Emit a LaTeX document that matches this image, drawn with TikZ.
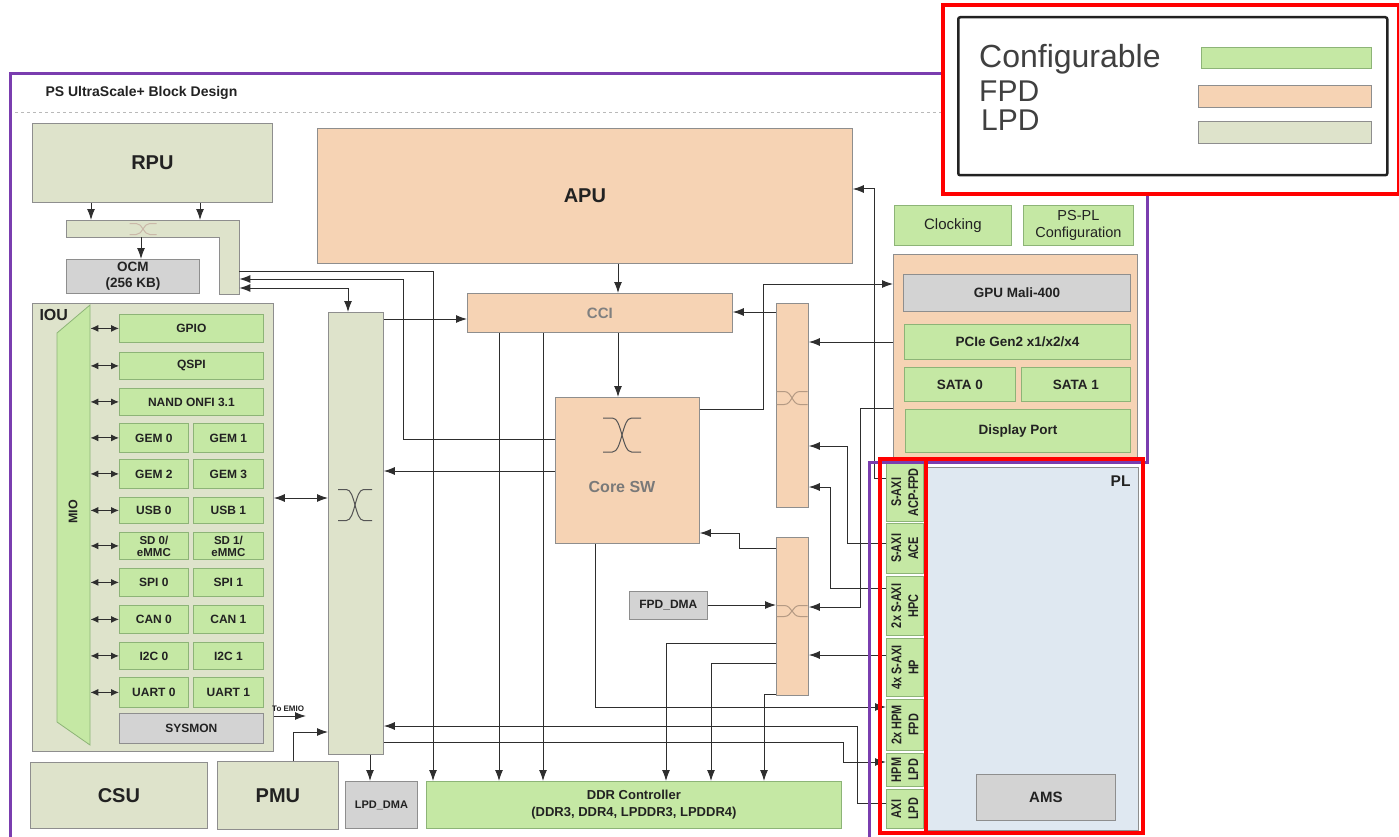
\documentclass[tikz,border=0pt]{standalone}
\usepackage{fontspec}
\setmainfont{Liberation Sans}
\newfontfamily\narrowf{Liberation Sans}[FakeStretch=0.78]
\usetikzlibrary{arrows.meta}
\definecolor{lpd}{HTML}{DEE3CB}
\definecolor{fpd}{HTML}{F6D3B4}
\definecolor{cfg}{HTML}{C5E8A4}
\definecolor{cfgb}{HTML}{8DB477}
\definecolor{gbox}{HTML}{D3D3D3}
\definecolor{plc}{HTML}{DFE8F1}
\definecolor{purp}{HTML}{7A3DAF}
\definecolor{bord}{HTML}{8E8E8E}
\definecolor{ln}{HTML}{2E2E2E}
\definecolor{txt}{HTML}{222222}
\definecolor{swc}{HTML}{555555}
\definecolor{swf}{HTML}{B49A84}
\newcommand\fsz[2]{\fontsize{#1}{#2}\selectfont}
\newcommand\bx[7]{\node[#1,minimum width=#5pt,minimum height=#6pt,anchor=north west] (#2) at (#3,#4) {#7};}
\newcommand\xsym[5]{%
\draw[#5,line width=1pt] ({#1-#3/2},{#2-#4/2}) -- ({#1-#3/4},{#2-#4/2}) .. controls ({#1},{#2-#4/2}) and ({#1},{#2+#4/2}) .. ({#1+#3/4},{#2+#4/2}) -- ({#1+#3/2},{#2+#4/2});
\draw[#5,line width=1pt] ({#1-#3/2},{#2+#4/2}) -- ({#1-#3/4},{#2+#4/2}) .. controls ({#1},{#2+#4/2}) and ({#1},{#2-#4/2}) .. ({#1+#3/4},{#2-#4/2}) -- ({#1+#3/2},{#2-#4/2});}
\begin{document}
\begin{tikzpicture}[x=1pt,y=-1pt,
  base/.style={draw=bord,line width=0.8pt,inner sep=0pt,text=txt,font=\bfseries\fsz{12}{13},align=center},
  lpdbox/.style={base,fill=lpd},
  fpdbox/.style={base,fill=fpd},
  cfgbox/.style={base,fill=cfg,draw=cfgb},
  graybox/.style={base,fill=gbox},
  big/.style={font=\bfseries\fsz{20}{22}},
  mid/.style={font=\bfseries\fsz{13.5}{15}},
  plab/.style={rotate=90,align=center,inner sep=0pt,text=txt,font=\narrowf\bfseries\fsz{14}{17}},
  wire/.style={draw=ln,line width=1pt},
  arr/.style={wire,-{Latex[length=11pt,width=8pt]}},
  barr/.style={wire,{Latex[length=11pt,width=8pt]}-{Latex[length=11pt,width=8pt]}},
  sarr/.style={wire,{Latex[length=8pt,width=7pt]}-{Latex[length=8pt,width=7pt]}}]
\useasboundingbox (0,0) rectangle (1399,837);
\fill[white] (0,0) rectangle (1399,837);

% title and dashed separator
\node[anchor=west,font=\bfseries\fsz{14}{16},text=txt] (title) at (42,93) {PS UltraScale+ Block Design};
\draw[gray!55,dashed,line width=0.8pt] (15,112) -- (1143,112);

% RPU, L-shaped switch, OCM
\bx{lpdbox,big}{rpu}{32}{123}{240}{79}{RPU}
\draw[draw=bord,fill=lpd,line width=0.8pt] (66,220) -- (239,220) -- (239,294) -- (219,294) -- (219,237) -- (66,237) -- cycle;
\node[inner sep=0pt,minimum width=173pt,minimum height=17pt,anchor=north west] (rsw) at (66,220) {};
\node[inner sep=0pt,minimum width=20pt,minimum height=57pt,anchor=north west] (rswv) at (219,237) {};
\xsym{143}{229}{27}{11}{swf!70}
\bx{graybox,font=\bfseries\fsz{13.5}{16}}{ocm}{66}{259}{133}{34}{OCM\\(256 KB)}

% APU, CCI, Core SW
\bx{fpdbox,big}{apu}{317}{128}{535}{135}{APU}
\bx{fpdbox,font=\bfseries\fsz{15}{17},text=gray}{cci}{467}{293}{265}{39}{CCI}
\bx{fpdbox}{coresw}{555}{397}{144}{146}{}
\xsym{622}{435}{38}{34}{swc}
\node[font=\bfseries\fsz{16}{18},text=gray!95!black] (corelab) at (622,487) {Core SW};

% LPD switch and FPD switches
\bx{lpdbox}{lpdsw}{328}{312}{55}{442}{}
\xsym{355}{505}{34}{31}{swc}
\bx{fpdbox}{fsw1}{776}{303}{32}{204}{}
\xsym{792}{398}{31}{13}{swf}
\bx{fpdbox}{fsw2}{776}{537}{32}{158}{}
\xsym{792}{611}{31}{11}{swf}
\bx{graybox}{fpddma}{629}{591}{78}{28}{FPD\_DMA}

% IOU
\bx{lpdbox}{iou}{32}{303}{241}{448}{}
\node[anchor=west,font=\bfseries\fsz{16}{18},text=txt] (ioulab) at (36,315) {IOU};
\draw[draw=cfgb,fill=cfg,line width=0.8pt] (57,333) -- (90,305) -- (90,745) -- (57,722) -- cycle;
\node[inner sep=0pt,minimum width=33pt,minimum height=440pt,anchor=north west] (mio) at (57,305) {};
\node[rotate=90,font=\bfseries\fsz{12.5}{14},text=txt] (miolab) at (73,512) {MIO};
\bx{cfgbox}{gpio}{119}{314}{144}{28}{GPIO}
\bx{cfgbox}{qspi}{119}{352}{144}{27}{QSPI}
\bx{cfgbox}{nand}{119}{388}{144}{27}{NAND ONFI 3.1}
\bx{cfgbox}{gem0}{119}{423}{69}{29}{GEM 0}
\bx{cfgbox}{gem1}{193}{423}{70}{29}{GEM 1}
\bx{cfgbox}{gem2}{119}{459}{69}{29}{GEM 2}
\bx{cfgbox}{gem3}{193}{459}{70}{29}{GEM 3}
\bx{cfgbox}{usb0}{119}{497}{69}{26}{USB 0}
\bx{cfgbox}{usb1}{193}{497}{70}{26}{USB 1}
\bx{cfgbox,font=\bfseries\fsz{11.5}{12}}{sd0}{119}{532}{69}{27}{SD 0/\\eMMC}
\bx{cfgbox,font=\bfseries\fsz{11.5}{12}}{sd1}{193}{532}{70}{27}{SD 1/\\eMMC}
\bx{cfgbox}{spi0}{119}{568}{69}{28}{SPI 0}
\bx{cfgbox}{spi1}{193}{568}{70}{28}{SPI 1}
\bx{cfgbox}{can0}{119}{605}{69}{28}{CAN 0}
\bx{cfgbox}{can1}{193}{605}{70}{28}{CAN 1}
\bx{cfgbox}{i2c0}{119}{642}{69}{27}{I2C 0}
\bx{cfgbox}{i2c1}{193}{642}{70}{27}{I2C 1}
\bx{cfgbox}{uart0}{119}{677}{69}{30}{UART 0}
\bx{cfgbox}{uart1}{193}{677}{70}{30}{UART 1}
\bx{graybox}{sysmon}{119}{713}{144}{30}{SYSMON}
\foreach \p in {gpio,qspi,nand,gem0,gem2,usb0,sd0,spi0,can0,i2c0,uart0}
  \draw[sarr] (mio.east |- \p.west) -- (\p.west);

% bottom row
\bx{lpdbox,big}{csu}{30}{762}{177}{66}{CSU}
\bx{lpdbox,big}{pmu}{217}{761}{121}{68}{PMU}
\bx{graybox,font=\bfseries\fsz{11}{12}}{lpddma}{345}{781}{72}{47}{LPD\_DMA}
\bx{cfgbox,font=\bfseries\fsz{13}{17}}{ddr}{426}{781}{415}{47}{DDR Controller\\(DDR3, DDR4, LPDDR3, LPDDR4)}

% FPD peripherals
\bx{cfgbox,font=\fsz{15}{17}}{clk}{894}{205}{117}{40}{Clocking}
\bx{cfgbox,font=\fsz{14.5}{17}}{pspl}{1023}{205}{110}{40}{PS-PL\\Configuration}
\bx{fpdbox}{fper}{893}{254}{244}{206}{}
\bx{graybox,mid}{gpu}{903}{274}{227}{37}{GPU Mali-400}
\bx{cfgbox,mid}{pcie}{904}{324}{226}{35}{PCIe Gen2 x1/x2/x4}
\bx{cfgbox,mid}{sata0}{904}{367}{111}{34}{SATA 0}
\bx{cfgbox,mid}{sata1}{1021}{367}{109}{34}{SATA 1}
\bx{cfgbox,mid}{dp}{905}{409}{225}{43}{Display Port}

% PL
\node[draw=bord,fill=plc,line width=0.8pt,minimum width=212pt,minimum height=363pt,anchor=north west,inner sep=0pt] (pl) at (926,467) {};
\node[anchor=east,font=\bfseries\fsz{15.5}{17},text=txt] (pllab) at (1134,481) {PL};
\bx{graybox,font=\bfseries\fsz{15}{16}}{ams}{976}{774}{139}{46}{AMS}
\bx{cfgbox}{acp}{886}{463}{37}{58}{}
\bx{cfgbox}{ace}{886}{523}{37}{50}{}
\bx{cfgbox}{hpc}{886}{576}{37}{59}{}
\bx{cfgbox}{hp}{886}{638}{37}{58}{}
\bx{cfgbox}{hpmfpd}{886}{699}{37}{51}{}
\bx{cfgbox}{hpmlpd}{886}{753}{37}{33}{}
\bx{cfgbox}{axilpd}{886}{789}{37}{39}{}
\node[plab] (acpl) at (acp) {S-AXI\\ACP-FPD};
\node[plab] (acel) at (ace) {S-AXI\\ACE};
\node[plab] (hpcl) at (hpc) {2x S-AXI\\HPC};
\node[plab] (hpl) at (hp) {4x S-AXI\\HP};
\node[plab] (hpmfpdl) at (hpmfpd) {2x HPM\\FPD};
\node[plab] (hpmlpdl) at (hpmlpd) {HPM\\LPD};
\node[plab] (axilpdl) at (axilpd) {AXI\\LPD};

% connectors
\draw[arr] (rpu.south -| 91,0) -- (rsw.north -| 91,0);
\draw[arr] (rpu.south -| 200,0) -- (rsw.north -| 200,0);
\draw[arr] (rsw.south -| 141,0) -- (ocm.north -| 141,0);
\draw[arr] (rswv.east |- 0,271) -| (ddr.north -| 433,0);
\draw[arr] (coresw.west |- 0,439) -| (403,279) -- (rswv.east |- 0,279);
\draw[barr] (rswv.east |- 0,288) -| (lpdsw.north -| 348,0);
\draw[arr] (lpdsw.east |- 0,319) -- (cci.west |- 0,319);
\draw[arr] (coresw.west |- 0,471) -- (lpdsw.east |- 0,471);
\draw[barr] (iou.east |- 0,498) -- (lpdsw.west |- 0,498);
\draw[arr] (pmu.north -| 293,0) |- (lpdsw.west |- 0,732);
\coordinate (emio) at (306,716);
\draw[arr] (iou.east |- 0,716) -- (emio);
\node[anchor=south west,font=\bfseries\fsz{8}{9},text=txt,inner sep=1pt] (emiolab) at (271,713) {To EMIO};
\draw[arr] (lpdsw.south -| 370,0) -- (lpddma.north -| 370,0);
\draw[arr] (axilpd.west |- 0,803) -| (857,726) -- (lpdsw.east |- 0,726);
\draw[arr] (lpdsw.east |- 0,742) -| (843,762) -- (hpmlpd.west |- 0,762);
\draw[arr] (apu.south -| 618,0) -- (cci.north -| 618,0);
\draw[arr] (cci.south -| 618,0) -- (coresw.north -| 618,0);
\draw[arr] (cci.south -| 499,0) -- (ddr.north -| 499,0);
\draw[arr] (cci.south -| 543,0) -- (ddr.north -| 543,0);
\draw[arr] (fsw1.west |- 0,312) -- (cci.east |- 0,312);
\draw[arr] (fper.west |- 0,342) -- (fsw1.east |- 0,342);
\draw[arr] (ace.west |- 0,543) -| (847,446) -- (fsw1.east |- 0,446);
\draw[arr] (hpc.west |- 0,588) -| (830,487) -- (fsw1.east |- 0,487);
\draw[arr] (coresw.east |- 0,409) -| (763,284) -- (fper.west |- 0,284);
\draw[arr] (acp.west |- 0,478) -| (874,189) -- (apu.east |- 0,189);
\draw[arr] (fper.west |- 0,408) -| (860,607) -- (fsw2.east |- 0,607);
\draw[arr] (hp.west |- 0,655) -- (fsw2.east |- 0,655);
\draw[arr] (fpddma.east |- 0,605) -- (fsw2.west |- 0,605);
\draw[arr] (fsw2.west |- 0,548) -| (739,533) -- (coresw.east |- 0,533);
\draw[arr] (fsw2.west |- 0,643) -| (ddr.north -| 666,0);
\draw[arr] (fsw2.west |- 0,663) -| (ddr.north -| 711,0);
\draw[arr] (fsw2.west |- 0,694) -| (ddr.north -| 764,0);
\draw[arr] (coresw.south -| 595,0) |- (hpmfpd.west |- 0,707);

% PS frame (purple)
\draw[purp,line width=3pt] (10,845) -- (10,74) -- (1147,74) -- (1147,462) -- (869,462) -- (869,845);
% PL red frames
\draw[red,line width=4pt] (880,459) rectangle (1143,833);
\draw[red,line width=4pt] (926,459) -- (926,833);

% legend
\node[draw=red,line width=4pt,fill=white,minimum width=456pt,minimum height=189pt,anchor=north west,inner sep=0pt] (legframe) at (941,3) {};
\node[draw=txt,line width=2.5pt,rounded corners=2pt,minimum width=429pt,minimum height=158pt,anchor=north west,inner sep=0pt] (legbox) at (957,16) {};
\node[anchor=base west,inner sep=0pt,font=\fsz{32}{32},text=black!75] (legc) at (979,68) {Configurable};
\node[anchor=base west,inner sep=0pt,font=\fsz{30}{32},text=black!75] (legf) at (979,102) {FPD};
\node[anchor=base west,inner sep=0pt,font=\fsz{30}{32},text=black!75] (legl) at (981,131) {LPD};
\bx{cfgbox}{barc}{1201}{47}{170}{21}{}
\bx{fpdbox}{barf}{1198}{85}{173}{22}{}
\bx{lpdbox}{barl}{1198}{121}{173}{22}{}
\end{tikzpicture}
\end{document}
